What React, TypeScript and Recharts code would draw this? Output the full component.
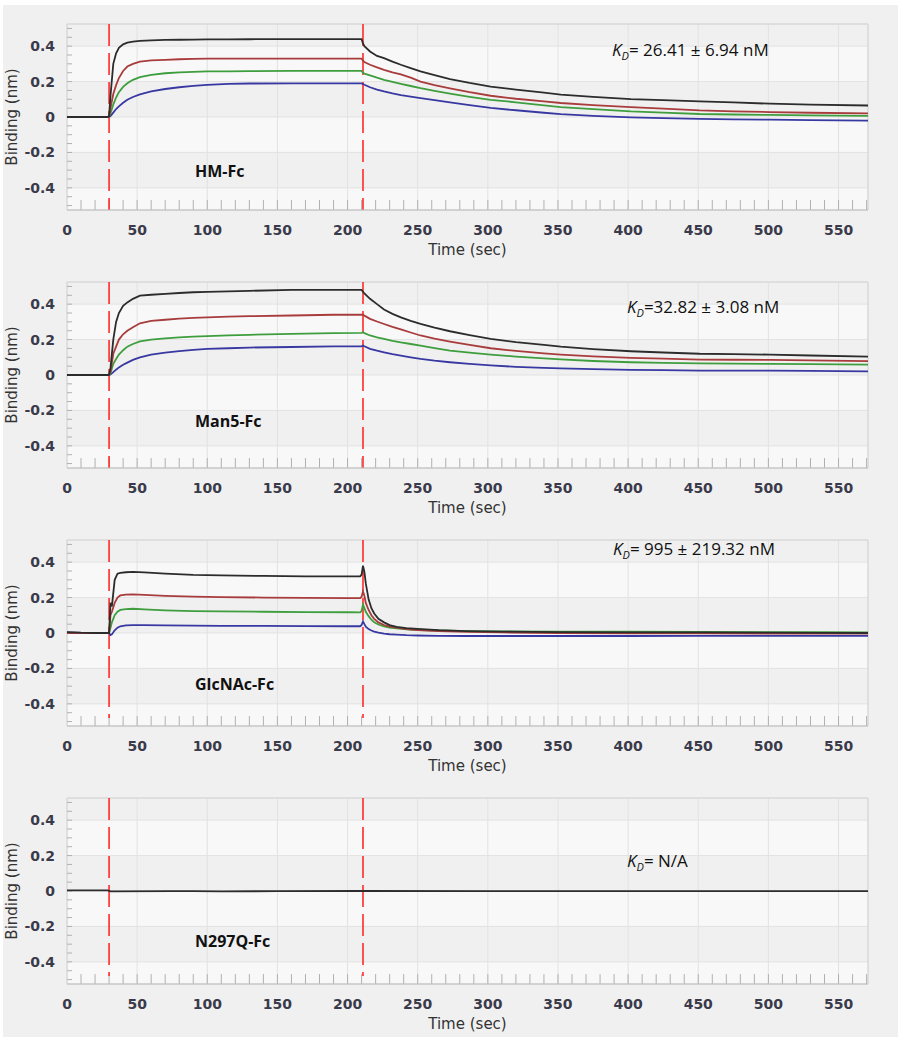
import React from "react";
import {
  LineChart, Line, XAxis, YAxis, CartesianGrid, ReferenceLine, ReferenceArea,
} from "recharts";

// shared axis ticks
const xTicks = [0, 50, 100, 150, 200, 250, 300, 350, 400, 450, 500, 550];
const xMinorTicks = [10, 20, 30, 40, 50, 60, 70, 80, 90, 100, 110, 120, 130, 140, 150, 160, 170, 180, 190, 200, 210, 220, 230, 240, 250, 260, 270, 280, 290, 300, 310, 320, 330, 340, 350, 360, 370, 380, 390, 400, 410, 420, 430, 440, 450, 460, 470, 480, 490, 500, 510, 520, 530, 540, 550, 560, 570];
const yTicks = [-0.4, -0.2, 0, 0.2, 0.4];
const yMinorTicks = [-0.5, -0.45, -0.4, -0.35, -0.3, -0.25, -0.2, -0.15, -0.1, -0.05, 0, 0.05, 0.1, 0.15, 0.2, 0.25, 0.3, 0.35, 0.4, 0.45, 0.5];
const stepTimes = [30, 211];

// HM-Fc and Man5-Fc sample times (sec)
const kineticTime = [0, 29, 30, 31, 33, 35, 37, 40, 43, 47, 52, 60, 70, 80, 90, 100, 115, 130, 160, 190, 210, 211, 212, 216, 221, 226, 232, 238, 245, 252, 262, 273, 287, 302, 320, 340, 352, 375, 402, 425, 451, 475, 501, 530, 571];

const hmBlack = [0, 0, 0.005, 0.12, 0.30, 0.36, 0.39, 0.41, 0.42, 0.425, 0.43, 0.432, 0.435, 0.436, 0.437, 0.438, 0.438, 0.439, 0.44, 0.44, 0.44, 0.415, 0.40, 0.37, 0.345, 0.332, 0.313, 0.295, 0.276, 0.257, 0.236, 0.214, 0.192, 0.172, 0.155, 0.138, 0.126, 0.114, 0.101, 0.095, 0.088, 0.082, 0.075, 0.07, 0.065];
const hmRed = [0, 0, 0.003, 0.05, 0.13, 0.18, 0.22, 0.26, 0.285, 0.3, 0.313, 0.32, 0.323, 0.326, 0.328, 0.33, 0.33, 0.33, 0.33, 0.33, 0.33, 0.318, 0.31, 0.295, 0.28, 0.266, 0.252, 0.24, 0.222, 0.2, 0.18, 0.162, 0.14, 0.12, 0.103, 0.088, 0.079, 0.067, 0.056, 0.047, 0.037, 0.032, 0.028, 0.024, 0.02];
const hmGreen = [0, 0, 0.002, 0.02, 0.07, 0.11, 0.14, 0.17, 0.19, 0.21, 0.225, 0.238, 0.247, 0.252, 0.255, 0.257, 0.258, 0.259, 0.26, 0.26, 0.26, 0.25, 0.245, 0.235, 0.222, 0.21, 0.198, 0.187, 0.175, 0.163, 0.148, 0.132, 0.114, 0.097, 0.083, 0.066, 0.056, 0.045, 0.032, 0.025, 0.017, 0.014, 0.012, 0.009, 0.006];
const hmBlue = [0, 0, 0, 0.005, 0.025, 0.045, 0.06, 0.08, 0.097, 0.113, 0.128, 0.145, 0.158, 0.168, 0.176, 0.181, 0.187, 0.189, 0.19, 0.19, 0.19, 0.186, 0.182, 0.168, 0.155, 0.144, 0.133, 0.124, 0.115, 0.107, 0.095, 0.083, 0.067, 0.051, 0.038, 0.024, 0.016, 0.006, -0.002, -0.006, -0.011, -0.013, -0.015, -0.018, -0.021];

const man5Black = [0, 0, 0.002, 0.04, 0.2, 0.3, 0.35, 0.39, 0.41, 0.43, 0.448, 0.453, 0.458, 0.463, 0.467, 0.469, 0.472, 0.475, 0.48, 0.48, 0.48, 0.47, 0.46, 0.43, 0.40, 0.37, 0.345, 0.325, 0.305, 0.288, 0.267, 0.247, 0.225, 0.204, 0.186, 0.17, 0.16, 0.146, 0.134, 0.127, 0.12, 0.118, 0.115, 0.11, 0.104];
const man5Red = [0, 0, 0.002, 0.02, 0.12, 0.16, 0.2, 0.23, 0.25, 0.27, 0.292, 0.305, 0.312, 0.318, 0.322, 0.325, 0.33, 0.332, 0.336, 0.34, 0.34, 0.34, 0.335, 0.317, 0.302, 0.288, 0.272, 0.258, 0.24, 0.223, 0.205, 0.189, 0.17, 0.151, 0.136, 0.122, 0.115, 0.105, 0.097, 0.092, 0.087, 0.086, 0.085, 0.082, 0.078];
const man5Green = [0, 0, 0, 0.01, 0.063, 0.09, 0.115, 0.14, 0.16, 0.175, 0.19, 0.2, 0.207, 0.212, 0.217, 0.22, 0.224, 0.227, 0.232, 0.236, 0.238, 0.241, 0.236, 0.223, 0.213, 0.204, 0.193, 0.184, 0.175, 0.166, 0.152, 0.138, 0.126, 0.115, 0.104, 0.094, 0.088, 0.079, 0.072, 0.069, 0.066, 0.064, 0.063, 0.061, 0.059];
const man5Blue = [0, 0, 0, 0.003, 0.016, 0.03, 0.043, 0.058, 0.07, 0.085, 0.1, 0.115, 0.126, 0.135, 0.142, 0.147, 0.151, 0.155, 0.158, 0.162, 0.162, 0.166, 0.162, 0.148, 0.137, 0.128, 0.118, 0.11, 0.1, 0.091, 0.081, 0.072, 0.063, 0.054, 0.046, 0.04, 0.037, 0.033, 0.029, 0.027, 0.025, 0.025, 0.025, 0.023, 0.021];

// GlcNAc-Fc
const glcTime = [0, 5, 10, 20, 29, 30, 31, 32, 34, 36, 38, 42, 47, 55, 70, 90, 110, 140, 170, 200, 209, 210, 211, 212, 213, 215, 217, 219, 222, 226, 230, 235, 242, 250, 265, 285, 310, 350, 400, 450, 500, 540, 571];
const glcBlack = [0.005, 0.004, 0.002, 0, 0, 0, 0.17, 0.15, 0.3, 0.335, 0.34, 0.343, 0.345, 0.342, 0.335, 0.328, 0.325, 0.322, 0.32, 0.32, 0.32, 0.33, 0.38, 0.345, 0.28, 0.19, 0.14, 0.11, 0.08, 0.06, 0.045, 0.035, 0.028, 0.023, 0.016, 0.011, 0.008, 0.005, 0.004, 0.003, 0.002, 0.001, 0];
const glcRed = [0, 0, 0, 0, 0, 0, 0.1, 0.12, 0.17, 0.2, 0.212, 0.217, 0.218, 0.215, 0.21, 0.205, 0.203, 0.2, 0.198, 0.197, 0.197, 0.205, 0.235, 0.21, 0.17, 0.13, 0.1, 0.08, 0.06, 0.045, 0.036, 0.03, 0.022, 0.016, 0.011, 0.006, 0.003, 0, -0.002, -0.002, -0.003, -0.003, -0.004];
const glcGreen = [0, 0, 0, 0, 0, 0, 0.03, 0.06, 0.1, 0.12, 0.13, 0.135, 0.137, 0.133, 0.128, 0.124, 0.122, 0.12, 0.118, 0.117, 0.116, 0.125, 0.16, 0.14, 0.12, 0.095, 0.075, 0.06, 0.048, 0.038, 0.031, 0.026, 0.021, 0.017, 0.014, 0.011, 0.009, 0.008, 0.007, 0.006, 0.005, 0.005, 0.004];
const glcBlue = [0.003, 0.002, 0, 0, 0, 0, -0.012, -0.008, 0.015, 0.03, 0.038, 0.043, 0.045, 0.044, 0.043, 0.042, 0.04, 0.04, 0.039, 0.038, 0.038, 0.045, 0.065, 0.05, 0.036, 0.022, 0.014, 0.008, 0.002, -0.004, -0.007, -0.009, -0.012, -0.014, -0.016, -0.017, -0.017, -0.017, -0.017, -0.016, -0.016, -0.016, -0.016];

// N297Q-Fc
const n297Time = [0, 29, 30, 31, 75, 90, 110, 150, 210, 300, 400, 500, 571];
const n297Black = [0.003, 0.003, 0.001, -0.002, -0.001, -0.001, -0.002, -0.001, 0, -0.001, -0.001, -0.001, -0.001];

const COLORS = { black: "#2c2c2c", red: "#a83c3c", green: "#3e9e3e", blue: "#3838a2" };

const panels = [
  { name: "HM-Fc", kd: "= 26.41 \u00b1 6.94 nM", kdX: 612, kdY: 56, nameY: 177, redBottom: -0.525,
    time: kineticTime, series: { black: hmBlack, red: hmRed, green: hmGreen, blue: hmBlue } },
  { name: "Man5-Fc", kd: "=32.82 \u00b1 3.08 nM", kdX: 627, kdY: 313, nameY: 427, redBottom: -0.525,
    time: kineticTime, series: { black: man5Black, red: man5Red, green: man5Green, blue: man5Blue } },
  { name: "GlcNAc-Fc", kd: "= 995 \u00b1 219.32 nM", kdX: 613, kdY: 555, nameY: 690, redBottom: -0.48,
    time: glcTime, series: { black: glcBlack, red: glcRed, green: glcGreen, blue: glcBlue } },
  { name: "N297Q-Fc", kd: "= N/A", kdX: 627, kdY: 867, nameY: 947, redBottom: -0.48,
    time: n297Time, series: { black: n297Black } },
];

const PANEL_H = 258;
const Y_MIN = -0.525;
const Y_MAX = 0.525;
const X_MAX = 571;
const MINOR_X_LEN = 0.056; // ~10px of y range
const MINOR_Y_LEN = 3.6;   // ~5px of x range
const tickFont = { fill: "#3a3a4a", fontSize: 14, fontFamily: "DejaVu Sans", fontWeight: "bold" as const };

function Panel({ p, top }: { p: typeof panels[number]; top: number }) {
  const keys = Object.keys(p.series) as (keyof typeof COLORS)[];
  const data = p.time.map((t, i) => {
    const row: Record<string, number> = { t };
    keys.forEach((k) => { row[k] = (p.series as any)[k][i]; });
    return row;
  });
  return (
    <div style={{ position: "absolute", left: 0, top }}>
      <LineChart width={908} height={PANEL_H} data={data} margin={{ top: 24, right: 40, bottom: 0, left: 0 }}>
        <CartesianGrid
          stroke="#e2e2e2"
          horizontalFill={["#f0f0f0", "#f8f8f8"]}
          fillOpacity={1}
        />
        <ReferenceArea x1={0} x2={X_MAX} y1={Y_MIN} y2={Y_MAX} fill="none" stroke="#d4d4d4" />
        <XAxis
          dataKey="t" type="number" domain={[0, X_MAX]} ticks={xTicks} allowDataOverflow
          height={48} tickSize={0} tickMargin={15} tickLine={false}
          axisLine={{ stroke: "#c4c4c4" }} tick={tickFont}
          label={{ value: "Time (sec)", position: "insideBottom", offset: 3, fill: "#333", fontSize: 15, fontFamily: "DejaVu Sans" }}
        />
        <YAxis
          type="number" domain={[Y_MIN, Y_MAX]} ticks={yTicks} allowDataOverflow
          width={67} tickSize={0} tickMargin={12} tickLine={false} axisLine={false} tick={tickFont}
          label={{ value: "Binding (nm)", angle: -90, position: "insideLeft", offset: 12, fill: "#333", fontSize: 15, fontFamily: "DejaVu Sans", style: { textAnchor: "middle" } }}
        />
        {xMinorTicks.map((t) => (
          <ReferenceLine
            key={`mx${t}`} segment={[{ x: t, y: Y_MIN }, { x: t, y: Y_MIN + MINOR_X_LEN }]}
            stroke="#b0b0b0" strokeWidth={1} ifOverflow="visible"
          />
        ))}
        {yMinorTicks.map((v) => (
          <ReferenceLine
            key={`my${v}`} segment={[{ x: 0, y: v }, { x: MINOR_Y_LEN, y: v }]}
            stroke="#b0b0b0" strokeWidth={1} ifOverflow="visible"
          />
        ))}
        {stepTimes.map((s) => (
          <ReferenceLine
            key={s}
            segment={[{ x: s, y: Y_MAX }, { x: s, y: p.redBottom }]}
            stroke="#ff2a2a" strokeWidth={1.6} strokeDasharray="22 7"
          />
        ))}
        {keys.slice().reverse().map((k) => (
          <Line
            key={k} dataKey={k} type="linear" stroke={COLORS[k]} strokeWidth={1.8}
            dot={false} activeDot={false} isAnimationActive={false}
          />
        ))}
      </LineChart>
    </div>
  );
}

export default function App() {
  return (
    <div style={{ position: "absolute", left: 0, top: 0, width: 908, height: 1050, background: "#fff" }}>
      <div style={{ position: "absolute", left: 3, top: 5, width: 895, height: 1032, background: "#f0f0f0" }} />
      {panels.map((p, i) => (
        <Panel key={p.name} p={p} top={i * PANEL_H} />
      ))}
      <svg width={908} height={1050} style={{ position: "absolute", left: 0, top: 0, pointerEvents: "none" }}>
        {panels.map((p) => (
          <g key={p.name}>
            <text x={195} y={p.nameY} fontFamily="Open Sans" fontWeight="bold" fontSize={16} fill="#111">{p.name}</text>
            <text x={p.kdX} y={p.kdY} fontFamily="Open Sans" fontSize={17} fill="#111">
              <tspan fontStyle="italic">K</tspan>
              <tspan fontStyle="italic" fontSize={11} dy={4}>D</tspan>
              <tspan dy={-4}>{p.kd}</tspan>
            </text>
          </g>
        ))}
      </svg>
    </div>
  );
}
